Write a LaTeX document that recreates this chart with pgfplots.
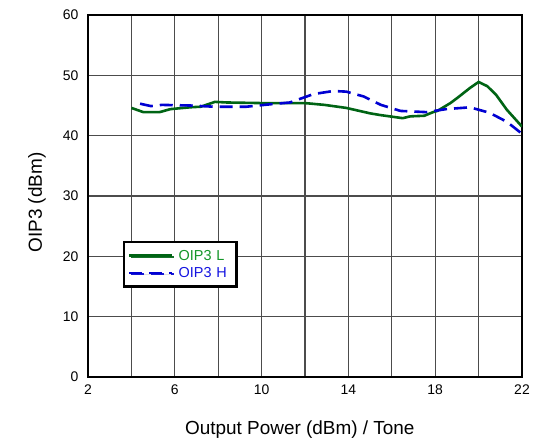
\documentclass[border=0pt]{standalone}
\usepackage{pgfplots}
\pgfplotsset{compat=1.18}
\usetikzlibrary{shadows}
\usepackage{fontspec}
\setmainfont{Liberation Sans}
\definecolor{lgreen}{RGB}{0,100,20}
\definecolor{lgreentxt}{RGB}{20,150,40}
\definecolor{hblue}{RGB}{0,0,210}
\definecolor{hbluetxt}{RGB}{20,20,225}
\begin{document}
\begin{tikzpicture}
\path[use as bounding box] (-88bp,-63bp) rectangle (448bp,377bp);
\begin{axis}[
  scale only axis, width=434bp, height=362bp,
  xmin=2, xmax=22, ymin=0, ymax=60,
  xtick={2,6,...,22}, minor xtick={4,8,...,20},
  ytick={0,10,...,60},
  grid=both,
  major grid style={black!70, line width=1.1bp},
  minor grid style={black!70, line width=1.1bp},
  axis line style={black, line width=1.6bp},
  major tick length=0pt, minor tick length=0pt,
  /pgf/number format/assume math mode=true,
  tick label style={font=\fontsize{14}{16}\selectfont},
  xticklabel style={yshift=-4bp},
  yticklabel style={xshift=-6bp},
  xlabel={Output Power (dBm) / Tone},
  ylabel={OIP3 (dBm)},
  label style={font=\fontsize{19}{22}\selectfont},
  xlabel style={at={(axis description cs:0.488,-0.1575)}, anchor=base},
  ylabel style={at={(axis description cs:-0.1175,0.482)}, anchor=center},
  legend style={at={(axis description cs:0.08,0.3765)}, anchor=north west,
    draw=black, line width=2.6bp, fill=white,
    drop shadow={shadow xshift=1.2bp, shadow yshift=-1.2bp, fill=black, opacity=0.9},
    font=\fontsize{14.5}{16}\selectfont,
    inner xsep=4bp, inner ysep=6bp, row sep=1.5bp,
    cells={anchor=west}},
  legend image code/.code={\draw[#1, line width=2.6bp] (0bp,0bp) -- (43bp,0bp);
    \path (46bp,0bp);},
]
\addplot[lgreen, line width=2.6bp] coordinates {
(4.0,44.6)(4.55,43.9)(5.3,43.9)(5.8,44.4)(6.7,44.7)(7.2,44.8)(7.85,45.6)(8.4,45.5)
(10,45.4)(12,45.4)(12.9,45.1)(13.9,44.6)(15,43.7)(15.5,43.4)(16.1,43.1)(16.5,42.9)
(16.85,43.2)(17.5,43.3)(17.9,43.9)(18.1,44.1)(18.7,45.4)(19.0,46.2)(19.6,47.9)(20.0,48.9)
(20.4,48.2)(20.8,46.8)(21.3,44.3)(22,41.5)};
\addlegendentry[text=lgreentxt, text width=52bp]{OIP3 L}
\addplot[hblue, line width=2.6bp, dash pattern=on 13bp off 7bp] coordinates {
(4.4,45.3)(4.9,44.9)(5.4,45.1)(6.7,45.0)(7.8,44.8)(9.3,44.8)(10.4,45.2)(11.3,45.5)
(12.4,46.9)(13.3,47.4)(13.9,47.3)(14.7,46.5)(15.5,45.1)(16.4,44.1)(17.6,43.9)
(18.5,44.4)(19.6,44.7)(20.5,43.8)(21.3,42.3)(21.76,41.0)(22,40.3)};
\addlegendentry[text=hbluetxt, text width=52bp]{OIP3 H}
\end{axis}
\end{tikzpicture}
\end{document}
